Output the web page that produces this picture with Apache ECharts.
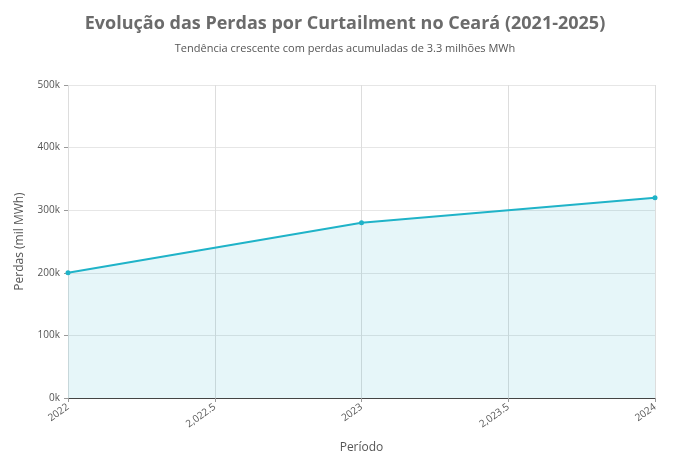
<!DOCTYPE html>
<html>
<head>
<meta charset="utf-8">
<script src="https://cdn.jsdelivr.net/npm/echarts@6/dist/echarts.min.js"></script>
<style>html,body{margin:0;padding:0;background:#fff}#chart{width:690px;height:459px}</style>
</head>
<body>
<div id="chart"></div>
<script>
var anos = [2022, 2023, 2024];
var perdas = [200, 280, 320]; // mil MWh
var xTicks = [2022, 2022.5, 2023, 2023.5, 2024];
var yTicks = [0, 100, 200, 300, 400, 500];

var chart = echarts.init(document.getElementById('chart'));
var fmtX = function (v) {
    if (v % 1 === 0) return String(v);
    return v.toLocaleString('en-US');
};
chart.setOption({
    animation: false,
    title: {
        text: 'Evolução das Perdas por Curtailment no Ceará (2021-2025)',
        subtext: 'Tendência crescente com perdas acumuladas de 3.3 milhões MWh',
        left: 'center', top: 10,
        textStyle: {fontFamily: 'Open Sans', fontSize: 18, fontWeight: 'bold', color: '#6b6b6b'},
        subtextStyle: {fontFamily: 'Open Sans', fontSize: 11, color: '#555'},
        itemGap: 10
    },
    grid: {left: 68, right: 35, top: 85, bottom: 60},
    xAxis: {
        type: 'value', min: 2022, max: 2024, interval: 0.5,
        name: 'Período', nameLocation: 'middle', nameGap: 44,
        nameTextStyle: {fontFamily: 'Open Sans', fontSize: 12, color: '#555'},
        axisLine: {lineStyle: {color: '#444'}},
        axisTick: {show: true, length: 4, lineStyle: {color: '#999'}},
        axisLabel: {rotate: 35, formatter: fmtX, color: '#555', fontSize: 10, fontFamily: 'Open Sans'},
        splitLine: {show: true, lineStyle: {color: '#ddd'}}
    },
    yAxis: {
        type: 'value', min: 0, max: 500, interval: 100,
        name: 'Perdas (mil MWh)', nameLocation: 'middle', nameGap: 42,
        nameTextStyle: {fontFamily: 'Open Sans', fontSize: 12, color: '#555'},
        axisLine: {show: false},
        axisTick: {show: true, length: 4, lineStyle: {color: '#999'}},
        axisLabel: {formatter: function (v) { return v + 'k'; }, color: '#555', fontSize: 10, fontFamily: 'Open Sans'},
        splitLine: {lineStyle: {color: '#e6e6e6'}}
    },
    series: [{
        type: 'line',
        data: anos.map(function (a, i) { return [a, perdas[i]]; }),
        symbol: 'circle', symbolSize: 5,
        lineStyle: {color: '#1fb3c8', width: 2},
        itemStyle: {color: '#1fb3c8'},
        areaStyle: {color: 'rgba(31,179,200,0.16)'}
    }]
});
</script>
</body>
</html>
